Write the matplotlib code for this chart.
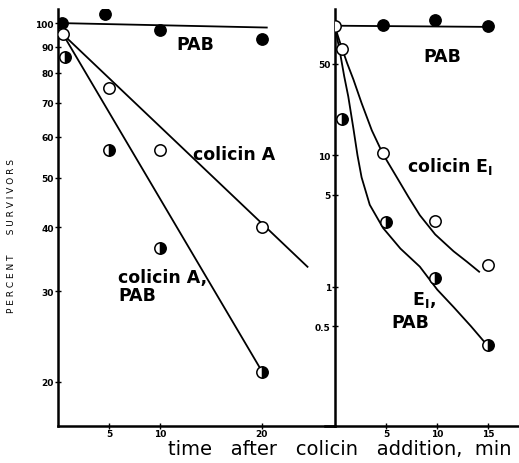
import matplotlib.pyplot as plt

plt.rcParams['font.family'] = ['DejaVu Sans']

# left panel: colicin A
a_t_pab = [0.4, 4.6, 10, 20]
a_pab = [100, 104, 97, 93]
a_t_col = [0.5, 5, 10, 20]
a_col = [95, 74.7, 56.6, 40]
a_t_colpab = [0.7, 5, 10, 20]
a_colpab = [86, 56.6, 36.5, 20.9]
# drawn lines
a_line_pab_t = [0, 20.5]
a_line_pab = [100, 98]
a_line_col_t = [0.5, 24.5]
a_line_col = [95, 33.5]
a_line_colpab_t = [0.5, 20]
a_line_colpab = [95, 21]

# right panel: colicin E1
e_t_pab = [4.7, 9.8, 15]
e_pab = [98, 107, 96.5]
e_t_col = [0, 0.7, 4.7, 9.8, 15]
e_col = [96, 64, 10.4, 3.16, 1.45]
e_t_colpab = [0.7, 5, 9.8, 15]
e_colpab = [18.9, 3.1, 1.17, 0.36]
# hand drawn curves
e_line_pab_t = [0, 15]
e_line_pab = [97, 95]
e_curve_col_t = [0, 0.6, 1.2, 1.8, 2.6, 3.6, 4.7, 6.0, 7.2, 8.3, 9.8, 11.6, 12.9, 14.1]
e_curve_col = [95, 68, 50, 37.8, 25, 15.5, 10.2, 6.9, 4.8, 3.5, 2.5, 1.86, 1.55, 1.3]
e_curve_colpab_t = [0, 0.5, 0.9, 1.3, 1.8, 2.2, 2.6, 3.4, 4.7, 6.4, 8.3, 10.0, 11.6, 13.3, 15]
e_curve_colpab = [95, 60, 40, 28, 16, 10, 6.8, 4.2, 2.8, 1.95, 1.42, 0.95, 0.7, 0.5, 0.35]

fig = plt.figure(figsize=(5.19, 4.64), dpi=100)
ax1 = fig.add_axes([58 / 519, 37 / 464, 277 / 519, 417 / 464])
ax2 = fig.add_axes([335 / 519, 37 / 464, 184 / 519, 417 / 464])

lw = 1.3
ms = 8.2
filled = dict(marker='o', ls='none', ms=ms, mfc='black', mec='black', zorder=5)
opened = dict(marker='o', ls='none', ms=ms, mfc='white', mec='black', mew=1.1, zorder=5)
half = dict(marker='o', ls='none', ms=ms, fillstyle='right', mfc='black',
            mfcalt='white', mec='black', mew=1.1, zorder=5)

ax1.plot(a_line_pab_t, a_line_pab, color='black', lw=lw)
ax1.plot(a_line_col_t, a_line_col, color='black', lw=lw)
ax1.plot(a_line_colpab_t, a_line_colpab, color='black', lw=lw)
ax1.plot(a_t_pab, a_pab, **filled)
ax1.plot(a_t_col, a_col, **opened)
ax1.plot(a_t_colpab, a_colpab, **half)

ax2.plot(e_line_pab_t, e_line_pab, color='black', lw=lw)
ax2.plot(e_curve_col_t, e_curve_col, color='black', lw=lw)
ax2.plot(e_curve_colpab_t, e_curve_colpab, color='black', lw=lw)
ax2.plot(e_t_pab, e_pab, **filled)
ax2.plot(e_t_col, e_col, **opened)
ax2.plot(e_t_colpab, e_colpab, **half)

for ax in (ax1, ax2):
    ax.set_yscale('log')
    ax.minorticks_off()
    ax.spines['top'].set_visible(False)
    ax.spines['right'].set_visible(False)
    ax.spines['left'].set_linewidth(1.8)
    ax.spines['bottom'].set_linewidth(1.8)
    ax.set_facecolor('none')
    for sp in ax.spines.values():
        sp.set_clip_on(False)
    ax.tick_params(axis='both', which='both', direction='inout', length=4,
                   width=1, labelsize=6.5, pad=1)
    ax.tick_params(axis='x', pad=0)

ax1.set_xlim(0, 27.2)
ax1.set_ylim(16.4, 106.5)
ax1.set_xticks([5, 10, 20])
ax1.set_xticklabels(['5', '10', '20'], fontweight='bold')
ax1.set_yticks([20, 30, 40, 50, 60, 70, 80, 90, 100])
ax1.set_yticklabels(['20', '30', '40', '50', '60', '70', '80', '90', '100'], fontweight='bold')

ax2.set_xlim(0, 18)
ax2.set_ylim(0.087, 130)
ax2.set_xticks([5, 10, 15])
ax2.set_xticklabels(['5', '10', '15'], fontweight='bold')
ax2.set_yticks([0.5, 1, 5, 10, 50])
ax2.set_yticklabels(['0.5', '1', '5', '10', '50'], fontweight='bold')
ax2.spines['bottom'].set_bounds(-1, 18)

lab = dict(fontsize=12.5, fontweight='bold', color='black')
ax1.text(11.6, 91, 'PAB', ha='left', va='center', **lab)
ax1.text(13.3, 55.6, 'colicin A', ha='left', va='center', **lab)
ax1.text(5.9, 30.8, 'colicin A,\nPAB', ha='left', va='center', linespacing=1.0, **lab)
ax2.text(10.5, 56.7, 'PAB', ha='center', va='center', **lab)
ax2.text(7.0, 8.4, 'colicin E$_\\mathbf{I}$', ha='left', va='center', **lab)
ax2.text(7.5, 0.81, 'E$_\\mathbf{I}$,', ha='left', va='center', **lab)
ax2.text(5.5, 0.54, 'PAB', ha='left', va='center', **lab)

fig.text(12 / 519, 1 - 236 / 464, 'P E R C E N T       S U R V I V O R S',
         rotation=90, ha='center', va='center', fontsize=6.5)
fig.text(340 / 519, 1 - 450 / 464, 'time   after   colicin   addition,  min',
         ha='center', va='center', fontsize=14)

fig.savefig('out.png', dpi=100)
